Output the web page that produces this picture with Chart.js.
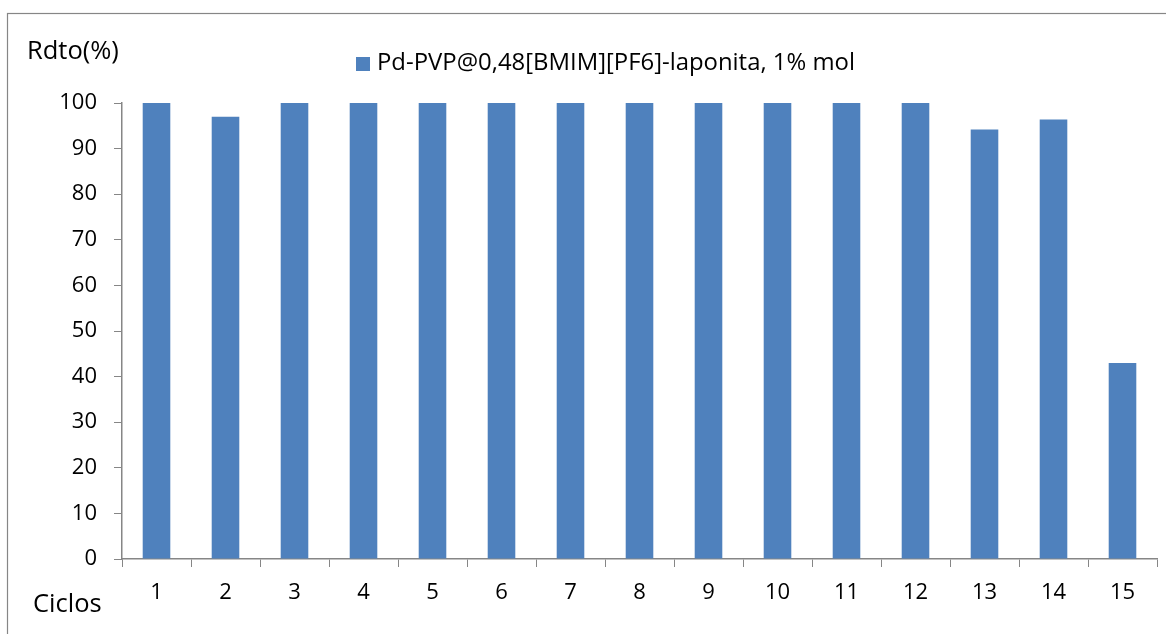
<!DOCTYPE html>
<html>
<head>
<meta charset="utf-8">
<script src="https://cdn.jsdelivr.net/npm/chart.js@4/dist/chart.umd.min.js"></script>
<style>
  html, body { margin: 0; padding: 0; background: #fff; }
  #wrap { width: 1166px; height: 634px; position: relative; }
</style>
</head>
<body>
<div id="wrap"><canvas id="chart"></canvas></div>
<script>
// Données du graphique
const ciclos = ['1','2','3','4','5','6','7','8','9','10','11','12','13','14','15'];
const rendimiento = [100, 97, 100, 100, 100, 100, 100, 100, 100, 100, 100, 100, 94.2, 96.4, 43];
const serieLabel = 'Pd-PVP@0,48[BMIM][PF6]-laponita, 1% mol';
const yTicks = [0, 10, 20, 30, 40, 50, 60, 70, 80, 90, 100];

const FONT = '"Open Sans", "Noto Sans", sans-serif';
const BAR = '#4F81BD';
const AXIS = '#868686';

// Textes et cadre dessinés à la main
const decor = {
  id: 'decor',
  afterDraw(chart) {
    const ctx = chart.ctx;
    ctx.save();
    // cadre extérieur
    ctx.strokeStyle = AXIS;
    ctx.lineWidth = 1.2;
    ctx.strokeRect(7.5, 13.5, 1170, 640);

    ctx.fillStyle = '#000';
    ctx.textBaseline = 'middle';
    ctx.textAlign = 'left';
    ctx.font = '25.5px ' + FONT;
    ctx.fillText('Rdto(%)', 27, 52);
    ctx.fillText('Ciclos', 33, 605);

    // légende : taille ajustée à la largeur
    ctx.fillStyle = BAR;
    ctx.fillRect(356, 57, 14, 14);
    ctx.fillStyle = '#000';
    let size = 23;
    ctx.font = size + 'px ' + FONT;
    const w = ctx.measureText(serieLabel).width;
    size = size * 478 / w;
    ctx.font = size.toFixed(1) + 'px ' + FONT;
    ctx.fillText(serieLabel, 377, 63);
    ctx.restore();
  }
};

new Chart(document.getElementById('chart'), {
  type: 'bar',
  data: {
    labels: ciclos,
    datasets: [{
      label: serieLabel,
      data: rendimiento,
      backgroundColor: BAR,
      borderWidth: 0,
      categoryPercentage: 1,
      barPercentage: 0.4
    }]
  },
  options: {
    responsive: true,
    maintainAspectRatio: false,
    animation: false,
    layout: { padding: { left: 0, right: 9, top: 103, bottom: 0 } },
    plugins: { legend: { display: false }, tooltip: { enabled: false } },
    scales: {
      x: {
        grid: { drawOnChartArea: false, color: AXIS, tickLength: 8, offset: true },
        border: { color: AXIS, width: 1.5 },
        ticks: { color: '#000', font: { family: FONT, size: 22 }, padding: 13, maxRotation: 0 },
        afterFit(s) { s.height = 75; }
      },
      y: {
        min: 0,
        max: 100,
        afterBuildTicks(s) { s.ticks = yTicks.map(v => ({ value: v })); },
        grid: { drawOnChartArea: false, color: AXIS, tickLength: 8 },
        border: { color: AXIS, width: 1.5 },
        ticks: { color: '#000', font: { family: FONT, size: 22 }, padding: 17 },
        afterFit(s) { s.width = 122; }
      }
    }
  },
  plugins: [decor]
});
</script>
</body>
</html>
